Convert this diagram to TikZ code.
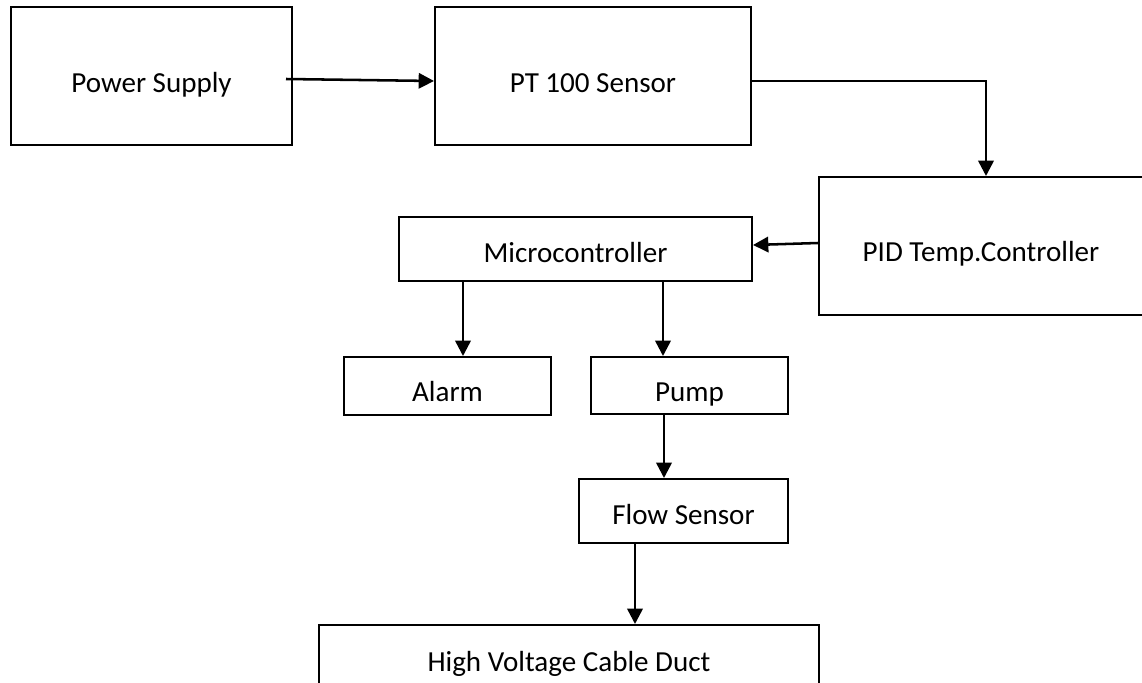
\documentclass[tikz,border=0pt]{standalone}
\usepackage{fontspec}
\setmainfont{Carlito}
\usetikzlibrary{arrows.meta,calc}
\begin{document}
\begin{tikzpicture}[x=0.75pt,y=-0.75pt,
  box/.style={draw=black,line width=1.5pt,inner sep=0pt,text height=22.5pt,text depth=0pt,
    font=\fontsize{21.8pt}{25pt}\selectfont},
  arr/.style={line width=1.9pt,-{Triangle[length=11.5pt,width=11.5pt]}}]
\useasboundingbox (0,0) rectangle (1142,682);
\fill[white] (0,0) rectangle (1142,682);
\node[box,minimum width=281*0.75pt,minimum height=138*0.75pt,text height=25pt] (ps) at (151.5,76) {Power Supply};
\node[box,minimum width=316*0.75pt,minimum height=138*0.75pt,text height=25pt] (pt) at (593,76) {PT 100 Sensor};
\node[box,minimum width=324*0.75pt,minimum height=138*0.75pt] (pid) at (981,246) {PID Temp.Controller};
\node[box,minimum width=353*0.75pt,minimum height=64*0.75pt,text height=19.5pt] (mc) at (575.5,249) {Microcontroller};
\node[box,minimum width=207*0.75pt,minimum height=58*0.75pt,text height=23pt] (al) at (447.5,386) {Alarm};
\node[box,minimum width=197*0.75pt,minimum height=57*0.75pt,text height=24pt] (pu) at (689.5,385.5) {Pump};
\node[box,minimum width=209*0.75pt,minimum height=64*0.75pt,text height=19.5pt] (fs) at (683.5,511) {Flow Sensor};
\node[box,minimum width=500*0.75pt,minimum height=74*0.75pt,text height=13.5pt] (hv) at (569,662) {High Voltage Cable Duct};
\coordinate (a1) at ([shift={(15.5,0)}]al.north);
\coordinate (a2) at ([shift={(-26.5,0)}]pu.north);
\coordinate (a3) at ([shift={(-25.5,0)}]pu.south);
\coordinate (a4) at ([shift={(-48.5,0)}]fs.south);
\draw[arr] ([shift={(-7,3)}]ps.east) -- ([shift={(0,5)}]pt.west);
\draw[arr] ([shift={(0,5)}]pt.east) -| ([shift={(5,0)}]pid.north);
\draw[arr] ([shift={(0,-3)}]pid.west) -- ([shift={(0,-4)}]mc.east);
\draw[arr] (mc.south -| a1) -- (a1);
\draw[arr] (mc.south -| a2) -- (a2);
\draw[arr] (a3) -- (fs.north -| a3);
\draw[arr] (a4) -- (hv.north -| a4);
\end{tikzpicture}
\end{document}
